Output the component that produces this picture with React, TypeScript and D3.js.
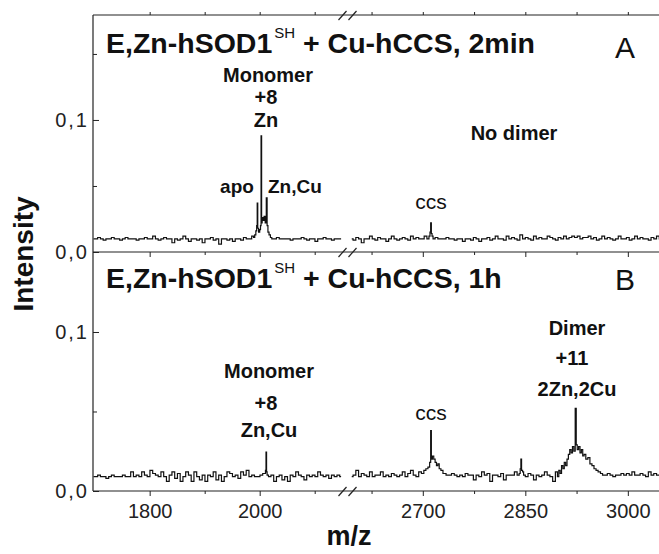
import React, { useEffect, useRef } from 'react';
import * as d3 from 'd3';

// m/z grids of the baseline traces, left and right of the axis break
const leftStart = 1698, leftStep = 5;
const rightStart = 2596, rightStep = 4;

// baseline traces, intensity x 10^-3
const baseALeft = [
  10,10,11,10,9,10,10,11,10,10,9,10,11,10,10,10,9,10,10,11,
  10,10,12,10,9,10,11,10,10,7,10,9,10,12,10,8,10,10,9,10,
  7,10,10,11,9,10,6,10,10,9,10,8,10,10,9,11,10,10,12,11,
  12,13,12,13,11,10,10,11,10,10,
  10,10,9,10,10,10,11,10,9,10,10,8,10,10,11,10,10,9,10,10,10,
];
const baseARight = [
  10,9,11,10,7,10,10,12,10,9,11,10,10,8,10,12,10,9,10,11,
  10,9,12,10,11,10,10,12,10,12,10,11,10,10,10,11,10,10,9,10,
  10,8,10,10,9,11,10,8,10,10,11,9,10,12,10,10,9,12,10,11,
  10,9,13,10,11,10,9,12,10,11,10,10,12,11,10,9,11,10,12,10,
  11,12,11,12,10,11,11,12,10,11,9,10,12,10,11,10,9,10,12,10,
  10,11,9,10,12,10,11,10,10,9,11,10,12,10,
];
const baseBLeft = [
  9,9,10,9,9,8,9,10,9,9,9,10,9,9,12,9,10,9,12,10,
  9,13,11,10,9,12,9,6,10,12,8,11,6,9,12,10,6,12,9,7,
  10,6,10,9,12,7,10,6,9,12,11,9,10,8,12,10,13,9,10,9,
  9,10,11,12,9,10,6,9,10,7,
  9,6,10,9,12,10,9,7,10,9,10,9,12,10,9,10,8,10,9,10,9,
];
const baseBRight = [
  9,10,13,9,11,10,9,12,9,10,10,12,9,10,9,11,10,9,10,12,
  9,11,13,10,9,12,11,12,13,14,15,14,13,12,11,10,10,11,10,9,
  10,9,11,10,10,7,10,9,12,10,11,6,10,10,9,11,7,10,10,10,
  12,10,20,10,9,11,10,7,10,9,10,12,10,9,6,12,13,16,18,20,
  26,52,28,26,24,22,20,17,15,13,12,11,10,10,11,10,9,10,10,11,
  10,11,10,12,10,10,11,10,9,12,10,11,10,10,
];

// peak groups [m/z, intensity x 10^-3]
const monomerA = [
  [1990,11],[1992,13],[1994,16],[1995,20],[1996,37],[1997,18],[1999,15],[2001,17],[2002,20],
  [2003,88],[2004,22],[2005,26],[2007,24],[2009,27],[2011,22],[2013,41],[2014,20],[2016,15],
  [2018,13],[2021,11],
];
const ccsA = [[2710,12],[2711,15],[2712,22],[2713,14],[2714,12]];
const monomerB = [[2010,11],[2011,13],[2012,24.5],[2013,12],[2014,10]];
const ccsB = [
  [2700,11],[2703,13],[2706,14],[2709,15],[2711,18],[2712,38],[2713,20],[2715,22],[2717,20],
  [2719,18],[2721,16],[2723,17],[2725,14],[2728,13],[2731,11],
];
const spikeB = [[2842,11],[2843,14],[2844,20],[2845,13],[2847,12]];
const dimerB = [
  [2896,12],[2898,9],[2900,13],[2902,11],[2904,16],[2906,14],[2908,18],[2910,16],[2912,20],
  [2914,23],[2916,26],[2918,24],[2920,28],[2922,25],[2924,52],[2925,29],[2927,26],[2929,28],
  [2931,24],[2933,26],[2935,22],[2937,23],[2940,20],[2943,21],[2946,17],[2949,16],[2952,14],
  [2955,13],[2958,12],[2962,11],
];

const yMajor = [0, 0.1];
const xMajorLeft = [1800, 2000];
const xMinorLeft = [1900, 2100];
const xMajorRight = [2700, 2850, 3000];
const xMinorRight = [2625, 2775, 2925];

const font = 'Liberation Sans, Arial, Helvetica, sans-serif';

function trace(base: number[], start: number, step: number, groups: number[][][]) {
  const pts = base.map((v, i) => [start + i * step, v]);
  const kept = pts.filter(([m]) => !groups.some(g => m >= g[0][0] && m <= g[g.length - 1][0]));
  return kept.concat(...groups).sort((a, b) => a[0] - b[0]);
}

const App = () => {
  const svgRef = useRef<SVGSVGElement>(null);

  useEffect(() => {
    const svg = d3.select(svgRef.current);
    svg.selectAll('*').remove();

    const left = 93, right = 662, top = 15, mid = 252, bottom = 491;

    const xLeft = d3.scaleLinear().domain([1697, 2150]).range([left, 342.2]);
    const xRight = d3.scaleLinear().domain([2592, 3050]).range([349, right]);
    const yA = d3.scaleLinear().domain([0, 0.1795]).range([mid, top]);
    const yB = d3.scaleLinear().domain([0, 0.1503]).range([bottom, mid]);

    const fmt = (d: any) => d3.format('.1f')(d).replace('.', ',');

    // frame
    const frame = svg.append('g').attr('stroke', '#222').attr('stroke-width', 1.2);
    [top, mid, bottom].forEach(y => {
      frame.append('line').attr('x1', left).attr('x2', right).attr('y1', y).attr('y2', y);
    });
    frame.append('line').attr('x1', left).attr('x2', left).attr('y1', top).attr('y2', bottom);

    // y axes (ticks inward)
    const yAxis = (y: any, minor: number[]) => {
      const g = svg.append('g').attr('transform', `translate(${left},0)`);
      g.call(d3.axisLeft(y).tickValues(yMajor).tickSize(-6).tickPadding(4).tickFormat(fmt));
      g.call(gg => gg.select('.domain').remove());
      g.selectAll('text').attr('font-size', 20).attr('font-family', font).attr('fill', '#222')
        .attr('letter-spacing', 2);
      const m = svg.append('g').attr('transform', `translate(${left},0)`);
      m.call(d3.axisLeft(y).tickValues(minor).tickSize(-4).tickFormat(() => ''));
      m.call(gg => gg.select('.domain').remove());
    };
    yAxis(yA, [0.05, 0.15]);
    yAxis(yB, [0.05]);

    // x axes (ticks outward)
    const xAxis = (yPos: number, labels: boolean, dir: 'bottom' | 'top') => {
      const mk = dir === 'bottom' ? d3.axisBottom : d3.axisTop;
      [[xLeft, xMajorLeft, xMinorLeft], [xRight, xMajorRight, xMinorRight]].forEach(([sc, maj, min]: any) => {
        const g = svg.append('g').attr('transform', `translate(0,${yPos})`);
        g.call(mk(sc).tickValues(maj).tickSize(dir === 'bottom' ? 5 : 3).tickPadding(8)
          .tickFormat(labels ? d3.format('d') : () => ''));
        g.select('.domain').remove();
        g.selectAll('text').attr('font-size', 20).attr('font-family', font).attr('fill', '#222');
        const m = svg.append('g').attr('transform', `translate(0,${yPos})`);
        m.call(mk(sc).tickValues(min).tickSize(3).tickFormat(() => ''));
        m.select('.domain').remove();
      });
    };
    xAxis(top, false, 'top');
    xAxis(mid, false, 'bottom');
    xAxis(bottom, true, 'bottom');
    svg.selectAll('.tick line').attr('stroke', '#222');

    // break marks
    [top, mid, bottom].forEach(y => {
      [342.5, 352.5].forEach(cx => {
        svg.append('line').attr('x1', cx - 4).attr('y1', y + 5).attr('x2', cx + 4).attr('y2', y - 4)
          .attr('stroke', '#222').attr('stroke-width', 1.2);
      });
    });

    // spectra
    const draw = (data: number[][], x: any, y: any) => {
      const line = d3.line<number[]>()
        .x(d => x(d[0]))
        .y(d => y(d[1] * 0.001))
        .curve(d3.curveStep);
      svg.append('path').attr('d', line(data)).attr('fill', 'none')
        .attr('stroke', '#111').attr('stroke-width', 1.2);
    };
    draw(trace(baseALeft, leftStart, leftStep, [monomerA]), xLeft, yA);
    draw(trace(baseARight, rightStart, rightStep, [ccsA]), xRight, yA);
    draw(trace(baseBLeft, leftStart, leftStep, [monomerB]), xLeft, yB);
    draw(trace(baseBRight, rightStart, rightStep, [ccsB, spikeB, dimerB]), xRight, yB);

    // text
    const txt = (x: number, y: number, s: string, size: number, bold = true, anchor = 'middle') =>
      svg.append('text').attr('x', x).attr('y', y).attr('font-family', font)
        .attr('font-size', size).attr('font-weight', bold ? 'bold' : 'normal')
        .attr('text-anchor', anchor).attr('fill', '#111').text(s);

    const title = (y: number, tail: string) => {
      const t = svg.append('text').attr('x', 106).attr('y', y).attr('font-family', font)
        .attr('font-size', 28.5).attr('font-weight', 'bold').attr('fill', '#111');
      t.append('tspan').text('E,Zn-hSOD1');
      t.append('tspan').attr('dx', 2).attr('dy', -15).attr('font-size', 15).attr('font-weight', 'normal').text('SH');
      t.append('tspan').attr('dy', 15).text(tail);
    };
    title(53, ' + Cu-hCCS, 2min');
    title(288, ' + Cu-hCCS, 1h');
    txt(615, 58, 'A', 30, false, 'start');
    txt(615, 290, 'B', 30, false, 'start');

    txt(268, 82, 'Monomer', 20);
    txt(266, 104, '+8', 20);
    txt(266, 127, 'Zn', 20);
    txt(237, 193, 'apo', 19);
    txt(268, 193, 'Zn,Cu', 19, true, 'start');
    txt(514, 140, 'No dimer', 20);
    txt(431, 209, 'ccs', 21, false);

    txt(269, 378, 'Monomer', 20);
    txt(266, 410, '+8', 20);
    txt(269, 437, 'Zn,Cu', 20);
    txt(431, 420, 'ccs', 21, false);
    txt(577, 335, 'Dimer', 20);
    txt(572, 365, '+11', 20);
    txt(577, 396, '2Zn,2Cu', 20);

    svg.append('text').attr('transform', 'translate(33,254) rotate(-90)')
      .attr('text-anchor', 'middle').attr('font-family', font).attr('font-size', 28)
      .attr('font-weight', 'bold').attr('fill', '#111').text('Intensity');
    txt(349, 545, 'm/z', 27);
  }, []);

  return (
    <svg ref={svgRef} width={659} height={554}
      style={{ position: 'absolute', left: 0, top: 0, background: '#fff' }} />
  );
};

export default App;
